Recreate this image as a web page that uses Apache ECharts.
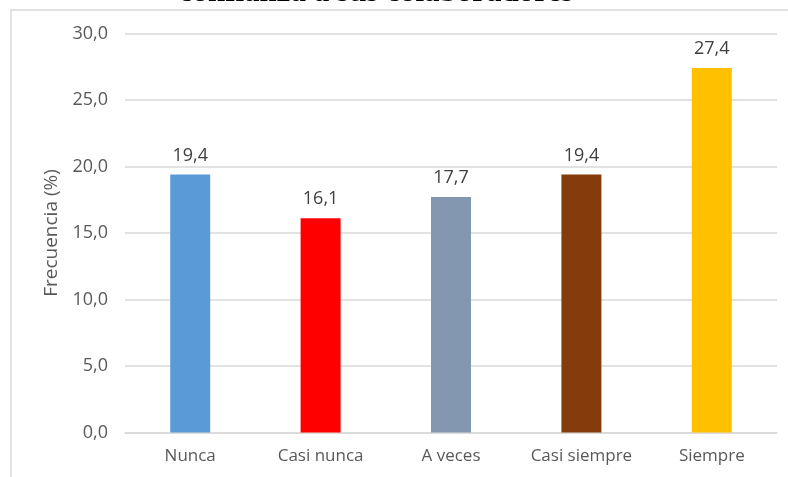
<!DOCTYPE html>
<html>
<head>
<meta charset="utf-8">
<script src="https://cdn.jsdelivr.net/npm/echarts@6/dist/echarts.min.js"></script>
<style>
  html, body { margin: 0; padding: 0; background: #fff; }
  #main { width: 788px; height: 477px; }
</style>
</head>
<body>
<div id="main"></div>
<script>
const categories = ['Nunca', 'Casi nunca', 'A veces', 'Casi siempre', 'Siempre'];
const values = [19.4, 16.1, 17.7, 19.4, 27.4];
const barColors = ['#5B9BD5', '#FF0000', '#8497B0', '#843C0C', '#FFC000'];
const titleText = 'confianza a sus colaboradores';
const axisName = 'Frecuencia (%)';

const chart = echarts.init(document.getElementById('main'));
const labelFont = "'Open Sans', sans-serif";

const option = {
  animation: false,
  graphic: [
    {
      type: 'rect',
      shape: { x: 11, y: 10, width: 800, height: 500 },
      style: { fill: 'none', stroke: '#d9d9d9', lineWidth: 1.5 },
      z: -1
    },
    {
      type: 'text',
      x: 376,
      y: -7,
      style: {
        text: titleText,
        fill: '#000',
        font: "bold 31px 'Liberation Serif', serif",
        textAlign: 'center',
        textVerticalAlign: 'middle'
      }
    }
  ],
  grid: { left: 125, right: 11, top: 33.5, bottom: 44.5 },
  xAxis: {
    type: 'category',
    data: categories,
    axisLine: { lineStyle: { color: '#d9d9d9', width: 1.5 } },
    axisTick: { show: false },
    axisLabel: { interval: 0, color: '#595959', fontSize: 17, fontFamily: labelFont, margin: 15 }
  },
  yAxis: {
    type: 'value',
    min: 0,
    max: 30,
    interval: 5,
    name: axisName,
    nameLocation: 'middle',
    nameGap: 64,
    nameTextStyle: { color: '#595959', fontSize: 19, fontFamily: labelFont },
    axisLine: { show: false },
    axisTick: { show: false },
    splitLine: { lineStyle: { color: '#d9d9d9', width: 1.5 } },
    axisLabel: {
      color: '#595959', fontSize: 18, fontFamily: labelFont, margin: 17,
      formatter: v => v.toFixed(1).replace('.', ',')
    }
  },
  series: [{
    type: 'bar',
    data: values.map((v, i) => ({ value: v, itemStyle: { color: barColors[i] } })),
    barWidth: 40,
    label: {
      show: true,
      position: 'top',
      distance: 10,
      color: '#404040',
      fontSize: 18,
      fontFamily: labelFont,
      formatter: p => p.value.toFixed(1).replace('.', ',')
    }
  }]
};
chart.setOption(option);
</script>
</body>
</html>
